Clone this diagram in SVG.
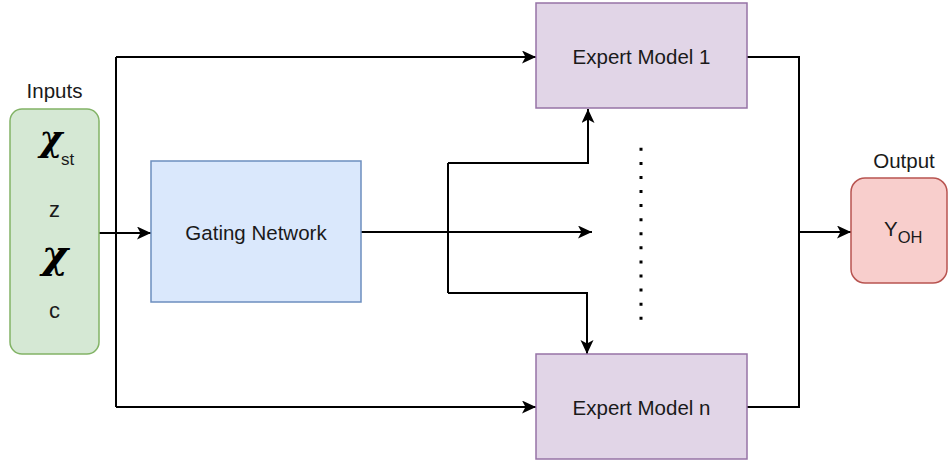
<svg xmlns="http://www.w3.org/2000/svg" width="948" height="461" viewBox="0 0 948 461">
<style>
.lbl{font-family:"Liberation Sans",Arial,sans-serif;font-size:20.5px;fill:#1a1a1a;}
.chi{font-family:"DejaVu Serif","Liberation Serif",serif;font-weight:bold;font-style:italic;fill:#000;}
.conn{fill:none;stroke:#000;stroke-width:2;}
</style>
<defs>
<marker id="arr" markerUnits="userSpaceOnUse" markerWidth="16" markerHeight="14" refX="14" refY="6.5" orient="auto">
<path d="M0,0 L14,6.5 L0,13 L3.5,6.5 Z" fill="#000"/>
</marker>
</defs>
<rect width="948" height="461" fill="#fff"/>
<g id="connectors">
<path class="conn" d="M99,233 L151,233" marker-end="url(#arr)"/>
<path class="conn" d="M116,57 L116,407"/>
<path class="conn" d="M116,57 L536,57" marker-end="url(#arr)"/>
<path class="conn" d="M116,407 L536,407" marker-end="url(#arr)"/>
<path class="conn" d="M361,232 L592,232" marker-end="url(#arr)"/>
<path class="conn" d="M448,163 L448,293"/>
<path class="conn" d="M448,163 L588,163 L588,109" marker-end="url(#arr)"/>
<path class="conn" d="M448,293 L587,293 L587,354" marker-end="url(#arr)"/>
<path class="conn" d="M747,57 L799,57 L799,407 L747,407"/>
<path class="conn" d="M799,232 L851,232" marker-end="url(#arr)"/>
<line x1="641" y1="147.8" x2="641" y2="320" stroke="#000" stroke-width="3" stroke-dasharray="3 11.08"/>
</g>
<g id="inputs">
<rect x="10" y="109" width="89" height="245" rx="12" fill="#d5e8d4" stroke="#82b366" stroke-width="1.5"/>
<text class="lbl" x="54.5" y="98" text-anchor="middle">Inputs</text>
<text class="chi" x="51" y="151" font-size="35" text-anchor="middle">χ</text>
<text class="lbl" x="61" y="165" style="font-size:17px">st</text>
<text class="lbl" x="54.5" y="217" text-anchor="middle" style="font-size:22px">z</text>
<text class="chi" x="55" y="268" font-size="40" text-anchor="middle">χ</text>
<text class="lbl" x="54.5" y="318" text-anchor="middle" style="font-size:22px">c</text>
</g>
<g id="gating">
<rect x="151" y="161" width="210" height="141" fill="#dae8fc" stroke="#6c8ebf" stroke-width="1.5"/>
<text class="lbl" x="256" y="240" text-anchor="middle">Gating Network</text>
</g>
<g id="expert1">
<rect x="536" y="3" width="211" height="105" fill="#e1d5e7" stroke="#9673a6" stroke-width="1.5"/>
<text class="lbl" x="641.5" y="64" text-anchor="middle">Expert Model 1</text>
</g>
<g id="expertn">
<rect x="536" y="354" width="211" height="105" fill="#e1d5e7" stroke="#9673a6" stroke-width="1.5"/>
<text class="lbl" x="641.5" y="415" text-anchor="middle">Expert Model n</text>
</g>
<g id="output">
<rect x="851" y="178" width="96" height="105" rx="14" fill="#f8cecc" stroke="#b85450" stroke-width="1.5"/>
<text class="lbl" x="904" y="168" text-anchor="middle">Output</text>
<text class="lbl" x="884" y="236">Y<tspan dy="7" style="font-size:16.5px">OH</tspan></text>
</g>
</svg>
